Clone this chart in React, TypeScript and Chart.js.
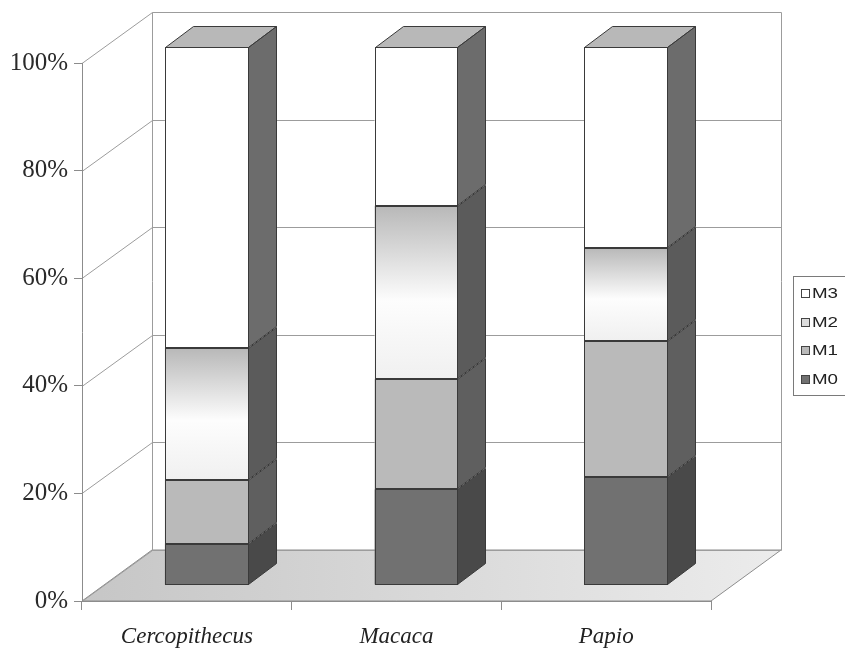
import React, { useEffect, useRef } from 'react';
import { Chart, registerables } from 'chart.js';

Chart.register(...registerables);

// ---- data ----
const categories = ['Cercopithecus', 'Macaca', 'Papio'];
const seriesNames = ['M0', 'M1', 'M2', 'M3'];
const m0 = [7.7, 17.8, 20.0];
const m1 = [11.9, 20.5, 25.4];
const m2 = [24.4, 32.2, 17.3];
const m3 = [56.0, 29.5, 37.3];
const yTicks = [0, 20, 40, 60, 80, 100];

// ---- styles ----
const FRONT = ['#717171', '#bababa', '#dddddd', '#ffffff'];
const SIDE = ['#494949', '#5f5f5f', '#5b5b5b', '#6c6c6c'];
const TOP_FACE = '#b8b8b8';
const EDGE = '#3a3a3a';
const WALL_DX = 70;
const WALL_DY = -51;
const BAR_DX = 20;
const BAR_DY = -16;
const DEPTH_X = 28;
const DEPTH_Y = -21;

function barGeom(el: any) {
  const xr = Math.round(el.x + el.width / 2) - 0.5;
  const xl = Math.round(el.x - el.width / 2) + 0.5;
  const top = Math.round(Math.min(el.y, el.base)) + 0.5;
  const bot = Math.round(Math.max(el.y, el.base)) - 0.5;
  return { xl, xr, top, bot };
}

function sidePath(ctx: any, g: any) {
  ctx.beginPath();
  ctx.moveTo(g.xr, g.top);
  ctx.lineTo(g.xr + DEPTH_X, g.top + DEPTH_Y);
  ctx.lineTo(g.xr + DEPTH_X, g.bot + DEPTH_Y);
  ctx.lineTo(g.xr, g.bot);
  ctx.closePath();
}

function topPath(ctx: any, g: any) {
  ctx.beginPath();
  ctx.moveTo(g.xl, g.top);
  ctx.lineTo(g.xl + DEPTH_X, g.top + DEPTH_Y);
  ctx.lineTo(g.xr + DEPTH_X, g.top + DEPTH_Y);
  ctx.lineTo(g.xr, g.top);
  ctx.closePath();
}

const threeD = {
  id: 'threeD',
  beforeDraw(chart: any) {
    const { ctx } = chart;
    const xs = chart.scales.x;
    const ys = chart.scales.y;
    const L = xs.left;
    const R = xs.right;
    const y0 = ys.getPixelForValue(0);
    const y100 = ys.getPixelForValue(100);
    ctx.save();
    ctx.lineWidth = 1;
    // floor
    const g = ctx.createLinearGradient(L, 0, R + WALL_DX, 0);
    g.addColorStop(0, '#c6c6c6');
    g.addColorStop(1, '#ececec');
    ctx.beginPath();
    ctx.moveTo(L, y0);
    ctx.lineTo(L + WALL_DX, y0 + WALL_DY);
    ctx.lineTo(R + WALL_DX, y0 + WALL_DY);
    ctx.lineTo(R, y0);
    ctx.closePath();
    ctx.fillStyle = g;
    ctx.fill();
    ctx.strokeStyle = '#8c8c8c';
    ctx.stroke();
    // wall grid lines
    ctx.strokeStyle = '#9c9c9c';
    for (const v of yTicks) {
      const p = Math.round(ys.getPixelForValue(v)) + 0.5;
      ctx.beginPath();
      ctx.moveTo(L, p);
      ctx.lineTo(L + WALL_DX + 0.5, p + WALL_DY);
      ctx.lineTo(R + WALL_DX + 0.5, p + WALL_DY);
      ctx.stroke();
    }
    // wall verticals
    const topB = Math.round(y100) + 0.5 + WALL_DY;
    const botB = Math.round(y0) + 0.5 + WALL_DY;
    ctx.beginPath();
    ctx.moveTo(Math.round(L + WALL_DX) + 0.5, topB);
    ctx.lineTo(Math.round(L + WALL_DX) + 0.5, botB);
    ctx.moveTo(Math.round(R + WALL_DX) + 0.5, topB);
    ctx.lineTo(Math.round(R + WALL_DX) + 0.5, botB);
    ctx.stroke();
    ctx.restore();
  },
  beforeDatasetsDraw(chart: any) {
    chart.ctx.save();
    chart.ctx.translate(BAR_DX, BAR_DY);
  },
  afterDatasetsDraw(chart: any) {
    const { ctx } = chart;
    ctx.lineWidth = 1;
    ctx.strokeStyle = EDGE;
    const n = chart.data.datasets.length;
    // fills
    for (let d = 0; d < n; d++) {
      chart.getDatasetMeta(d).data.forEach((el: any) => {
        const g = barGeom(el);
        sidePath(ctx, g);
        ctx.fillStyle = SIDE[d];
        ctx.fill();
        if (d === n - 1) {
          topPath(ctx, g);
          ctx.fillStyle = TOP_FACE;
          ctx.fill();
        }
      });
    }
    // outlines
    for (let d = 0; d < n; d++) {
      chart.getDatasetMeta(d).data.forEach((el: any) => {
        const g = barGeom(el);
        ctx.strokeRect(g.xl, g.top, g.xr - g.xl, g.bot - g.top);
        sidePath(ctx, g);
        ctx.stroke();
        if (d === n - 1) {
          topPath(ctx, g);
          ctx.stroke();
        }
      });
    }
    ctx.restore();
  },
  afterDraw(chart: any) {
    const { ctx } = chart;
    ctx.save();
    ctx.lineWidth = 1;
    ctx.fillStyle = '#ffffff';
    ctx.fillRect(793, 276, 90, 120);
    ctx.strokeStyle = '#7a7a7a';
    ctx.strokeRect(793.5, 276.5, 90, 119);
    const order = [3, 2, 1, 0];
    order.forEach((d, k) => {
      const cy = Math.round(293 + k * 28.5);
      ctx.fillStyle = FRONT[d];
      ctx.fillRect(801, cy - 4, 9, 9);
      ctx.strokeStyle = '#444';
      ctx.strokeRect(801.5, cy - 3.5, 8, 8);
      ctx.font = '15px "Liberation Sans", Arial, sans-serif';
      ctx.fillStyle = '#222';
      ctx.textBaseline = 'middle';
      ctx.textAlign = 'left';
      ctx.save();
      ctx.translate(812, cy + 1);
      ctx.scale(1.25, 1);
      ctx.fillText(chart.data.datasets[d].label, 0, 0);
      ctx.restore();
    });
    ctx.restore();
  },
};

function m2Gradient(c: any) {
  const chart = c.chart;
  if (!chart.chartArea || c.type !== 'data') return FRONT[2];
  const ys = chart.scales.y;
  const i = c.dataIndex;
  const lo = m0[i] + m1[i];
  const hi = lo + m2[i];
  const g = chart.ctx.createLinearGradient(0, ys.getPixelForValue(hi), 0, ys.getPixelForValue(lo));
  g.addColorStop(0, '#b8b8b8');
  g.addColorStop(0.55, '#fdfdfd');
  g.addColorStop(1, '#f0f0f0');
  return g;
}

export default function App() {
  const ref = useRef<HTMLCanvasElement>(null);
  useEffect(() => {
    if (!ref.current) return;
    const values = [m0, m1, m2, m3];
    const chart = new Chart(ref.current, {
      type: 'bar',
      data: {
        labels: categories,
        datasets: seriesNames.map((name, d) => ({
          label: name,
          data: values[d],
          backgroundColor: d === 2 ? m2Gradient : FRONT[d],
          borderColor: EDGE,
          borderWidth: 0,
          borderSkipped: false,
          barPercentage: 0.4,
          categoryPercentage: 1.0,
          clip: false,
        })),
      },
      options: {
        responsive: false,
        animation: false,
        layout: { padding: { left: 0, right: 134, top: 63, bottom: 0 } },
        plugins: { legend: { display: false }, tooltip: { enabled: false } },
        scales: {
          x: {
            stacked: true,
            grid: { display: true, drawOnChartArea: false, drawTicks: true, tickLength: 9, color: '#8c8c8c', offset: true },
            border: { display: true, color: '#8c8c8c' },
            ticks: {
              font: { family: '"Liberation Serif", serif', size: 23, style: 'italic' },
              color: '#222',
              padding: 13,
              maxRotation: 0,
            },
            afterFit: (s: any) => { s.height = 54; },
          },
          y: {
            stacked: true,
            min: 0,
            max: 100,
            afterBuildTicks: (s: any) => { s.ticks = yTicks.map((v) => ({ value: v })); },
            ticks: {
              callback: (v: any) => v + '%',
              font: { family: '"Liberation Serif", serif', size: 25 },
              color: '#2a2a2a',
              padding: 6,
            },
            grid: { drawOnChartArea: false, drawTicks: true, tickLength: 8, color: '#8c8c8c' },
            border: { display: true, color: '#8c8c8c' },
            afterFit: (s: any) => { s.width = 82; },
          },
        },
      },
      plugins: [threeD],
    });
    return () => chart.destroy();
  }, []);
  return (
    <div style={{ position: 'fixed', left: 0, top: 0, width: 845, height: 655, overflow: 'hidden', background: '#fff' }}>
      <canvas ref={ref} width={845} height={655} style={{ display: 'block' }} />
    </div>
  );
}
